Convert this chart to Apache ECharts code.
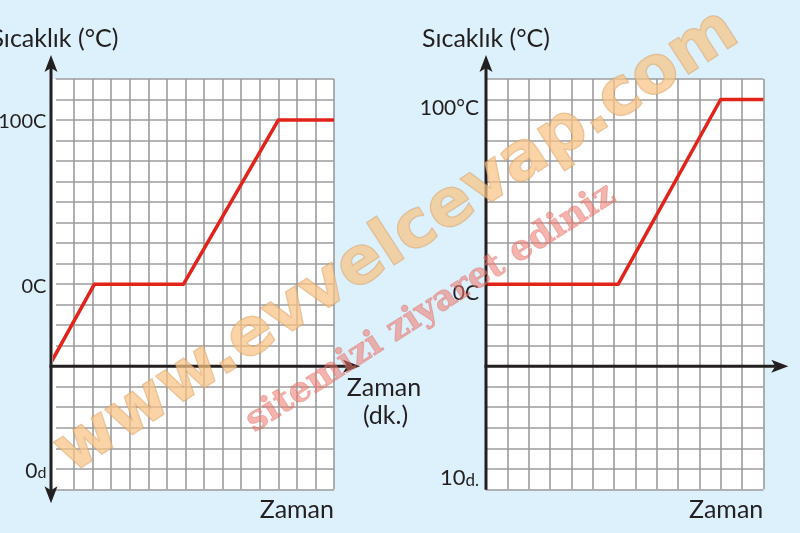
<!DOCTYPE html>
<html><head><meta charset="utf-8">
<script src="https://cdn.jsdelivr.net/npm/echarts@6/dist/echarts.min.js"></script>
<style>html,body{margin:0;padding:0;background:#dcf1fb;} #c{width:800px;height:533px;}</style>
</head><body><div id="c"></div>
<script>
// ---- data ----
// Left panel (time in grid columns, temperature in °C)
const leftTime = [-0.2, 2.1, 6.9, 12, 15];
const leftTemp = [-47, 0, 0, 100, 100];
const leftTickValues = [100, 0, -112.5];
const leftTickLabels = ['100C', '0C', '0d'];
const leftBaseTemp = -50;          // level of the time axis
// Right panel
const rightTime = [0, 6.2, 11, 13];
const rightTemp = [0, 0, 100, 100];
const rightTickValues = [100, 0, -100];
const rightTickLabels = ['100°C', '0C', '10d.'];
const rightBaseTemp = -400 / 9;    // level of the time axis
// texts
const yTitle = 'Sıcaklık (°C)';
const xTitle = 'Zaman';
const xUnitLines = ['Zaman', '(dk.)'];
const watermark1 = 'www.evvelcevap.com';
const watermark2 = 'sitemizi ziyaret ediniz';

// ---- styling ----
const font = 'Lato, "Noto Sans", sans-serif';
const ink = '#231f20';
const gridGray = '#9c9c9c';
const red = '#e2231a';
const bg = '#dcf1fb';

const chart = echarts.init(document.getElementById('c'));

function labelFmt(vals, labels) {
  return function (v) {
    for (let i = 0; i < vals.length; i++) {
      if (Math.abs(v - vals[i]) < 1e-4) {
        const m = labels[i].match(/^(\d+)(d\.?)$/);
        return m ? '{n|' + m[1] + '}{d|' + m[2] + '}' : labels[i];
      }
    }
    return '';
  };
}

function xAxisCfg(gi, max, showMin) {
  return {
    gridIndex: gi, type: 'value', min: 0, max: max, interval: 1, position: 'bottom',
    axisLine: { show: false, onZero: false }, axisTick: { show: false }, axisLabel: { show: false },
    splitLine: { show: true, showMinLine: showMin, lineStyle: { color: gridGray, width: 1.6 } },
    name: xTitle, nameLocation: 'end', nameGap: 0, nameMoveOverlap: false,
    nameTextStyle: { color: ink, fontSize: 25, fontFamily: font, align: 'right', verticalAlign: 'top', padding: [8, 0, 0, 0] }
  };
}
function yAxisCfg(gi, min, max, interval, offset, vals, labels, fs, margin, pad, namePad) {
  return {
    gridIndex: gi, type: 'value', min: min, max: max, interval: interval, offset: offset,
    axisLine: { show: false, onZero: false }, axisTick: { show: false },
    axisLabel: {
      show: true, customValues: vals, formatter: labelFmt(vals, labels), margin: margin,
      color: ink, fontSize: fs, fontFamily: font, padding: pad,
      rich: {
        n: { fontSize: fs + 1, fontFamily: font, color: ink, verticalAlign: 'bottom' },
        d: { fontSize: fs - 4, fontFamily: font, color: ink, verticalAlign: 'bottom' }
      }
    },
    splitLine: { show: true, lineStyle: { color: gridGray, width: 1.6 } },
    name: yTitle, nameLocation: 'end', nameGap: 28, nameMoveOverlap: false,
    nameTextStyle: { color: ink, fontSize: 25, fontFamily: font, align: 'center', padding: namePad }
  };
}

const option = {
  animation: false,
  backgroundColor: bg,
  textStyle: { fontFamily: font },
  grid: [
    { left: 55.4, top: 79, width: 278.6, height: 410.3, show: true, backgroundColor: '#fff', borderWidth: 0, containLabel: false, outerBoundsMode: 'none' },
    { left: 486, top: 79, width: 277.3, height: 410.3, show: true, backgroundColor: '#fff', borderWidth: 0, containLabel: false, outerBoundsMode: 'none' }
  ],
  xAxis: [xAxisCfg(0, 15, false), xAxisCfg(1, 13, true)],
  yAxis: [
    yAxisCfg(0, -125, 125, 12.5, 4, leftTickValues, leftTickLabels, 20, 5, [4, 0, 0, 0], [0, 0, 0, 6]),
    yAxisCfg(1, -1000 / 9, 1000 / 9, 100 / 9, 0, rightTickValues, rightTickLabels, 21, 7, [18, 0, 0, 0], [0, 0, 0, 0])
  ],
  series: [
    { type: 'line', xAxisIndex: 0, yAxisIndex: 0, data: leftTime.map((t, i) => [t, leftTemp[i]]),
      symbol: 'none', clip: false, z: 5, lineStyle: { color: red, width: 3.5, join: 'round' } },
    { type: 'line', xAxisIndex: 1, yAxisIndex: 1, data: rightTime.map((t, i) => [t, rightTemp[i]]),
      symbol: 'none', clip: false, z: 5, lineStyle: { color: red, width: 3.5, join: 'round' } }
  ]
};
chart.setOption(option);

// ---- axis arrows and extra texts placed via the library's scales ----
const G = [];
function px(gi, x, y) { return chart.convertToPixel({ gridIndex: gi }, [x, y]); }
function seg(x1, y1, x2, y2) {
  G.push({ type: 'line', shape: { x1, y1, x2, y2 }, style: { stroke: ink, lineWidth: 3 }, z: 50 });
}
function arrow(x, y, dir) {
  const L = 17, W = 6.5, N = 4;
  let p;
  if (dir === 'up') p = [[x, y], [x + W, y + L], [x, y + L - N], [x - W, y + L]];
  else if (dir === 'down') p = [[x, y], [x + W, y - L], [x, y - L + N], [x - W, y - L]];
  else p = [[x, y], [x - L, y - W], [x - L + N, y], [x - L, y + W]];
  G.push({ type: 'polygon', shape: { points: p }, style: { fill: ink }, z: 51 });
}
function text(x, y, s, opt) {
  G.push(Object.assign({ type: 'text', x, y, z: 60,
    style: Object.assign({ text: s, fill: ink, font: '25px ' + font, align: 'center', verticalAlign: 'middle' }, opt || {}) }));
}

// left panel
const lTL = px(0, 0, 125), lBR = px(0, 15, -125);
const lAx = lTL[0] - 4.4;
G.push({ type: 'rect', shape: { x: lAx, y: lTL[1], width: lTL[0] - lAx + 0.5, height: lBR[1] - lTL[1] }, style: { fill: '#fff' }, z: 1 });
const lTop = lTL[1] - 24, lBot = lBR[1] + 14;
seg(lAx, lTop + 13, lAx, lBot - 13); arrow(lAx, lTop, 'up'); arrow(lAx, lBot, 'down');
const lY = px(0, 0, leftBaseTemp)[1];
const lTip = lBR[0] + 26;
seg(lAx - 1.5, lY, lTip - 13, lY); arrow(lTip, lY, 'right');
text(lTip + 24, lY + 22, xUnitLines[0]);
text(lTip + 25.5, lY + 50, xUnitLines[1]);

// right panel
const rTL = px(1, 0, 1000 / 9), rBR = px(1, 13, -1000 / 9);
const rAx = rTL[0];
const rTop = rTL[1] - 24;
seg(rAx, rTop + 13, rAx, rBR[1] + 0.5); arrow(rAx, rTop, 'up');
const rY = px(1, 0, rightBaseTemp)[1];
const rTip = rBR[0] + 25;
seg(rAx - 1.5, rY, rTip - 13, rY); arrow(rTip, rY, 'right');

// watermark overlay
G.push({ type: 'text', x: 44, y: 432, rotation: 0.575, z: 100,
  style: { text: watermark1, font: 'bold 66px "DejaVu Sans"', fill: 'rgba(248,196,132,0.72)', stroke: 'rgba(205,150,95,0.55)', lineWidth: 1.5, align: 'left', verticalAlign: 'alphabetic' } });
G.push({ type: 'text', x: 240, y: 410, rotation: 0.57, z: 101,
  style: { text: watermark2, font: 'bold 35px "DejaVu Serif"', fill: 'rgba(238,118,108,0.55)', stroke: 'rgba(215,95,90,0.4)', lineWidth: 1, align: 'left', verticalAlign: 'alphabetic' } });

chart.setOption({ graphic: { elements: G } });
</script></body></html>
